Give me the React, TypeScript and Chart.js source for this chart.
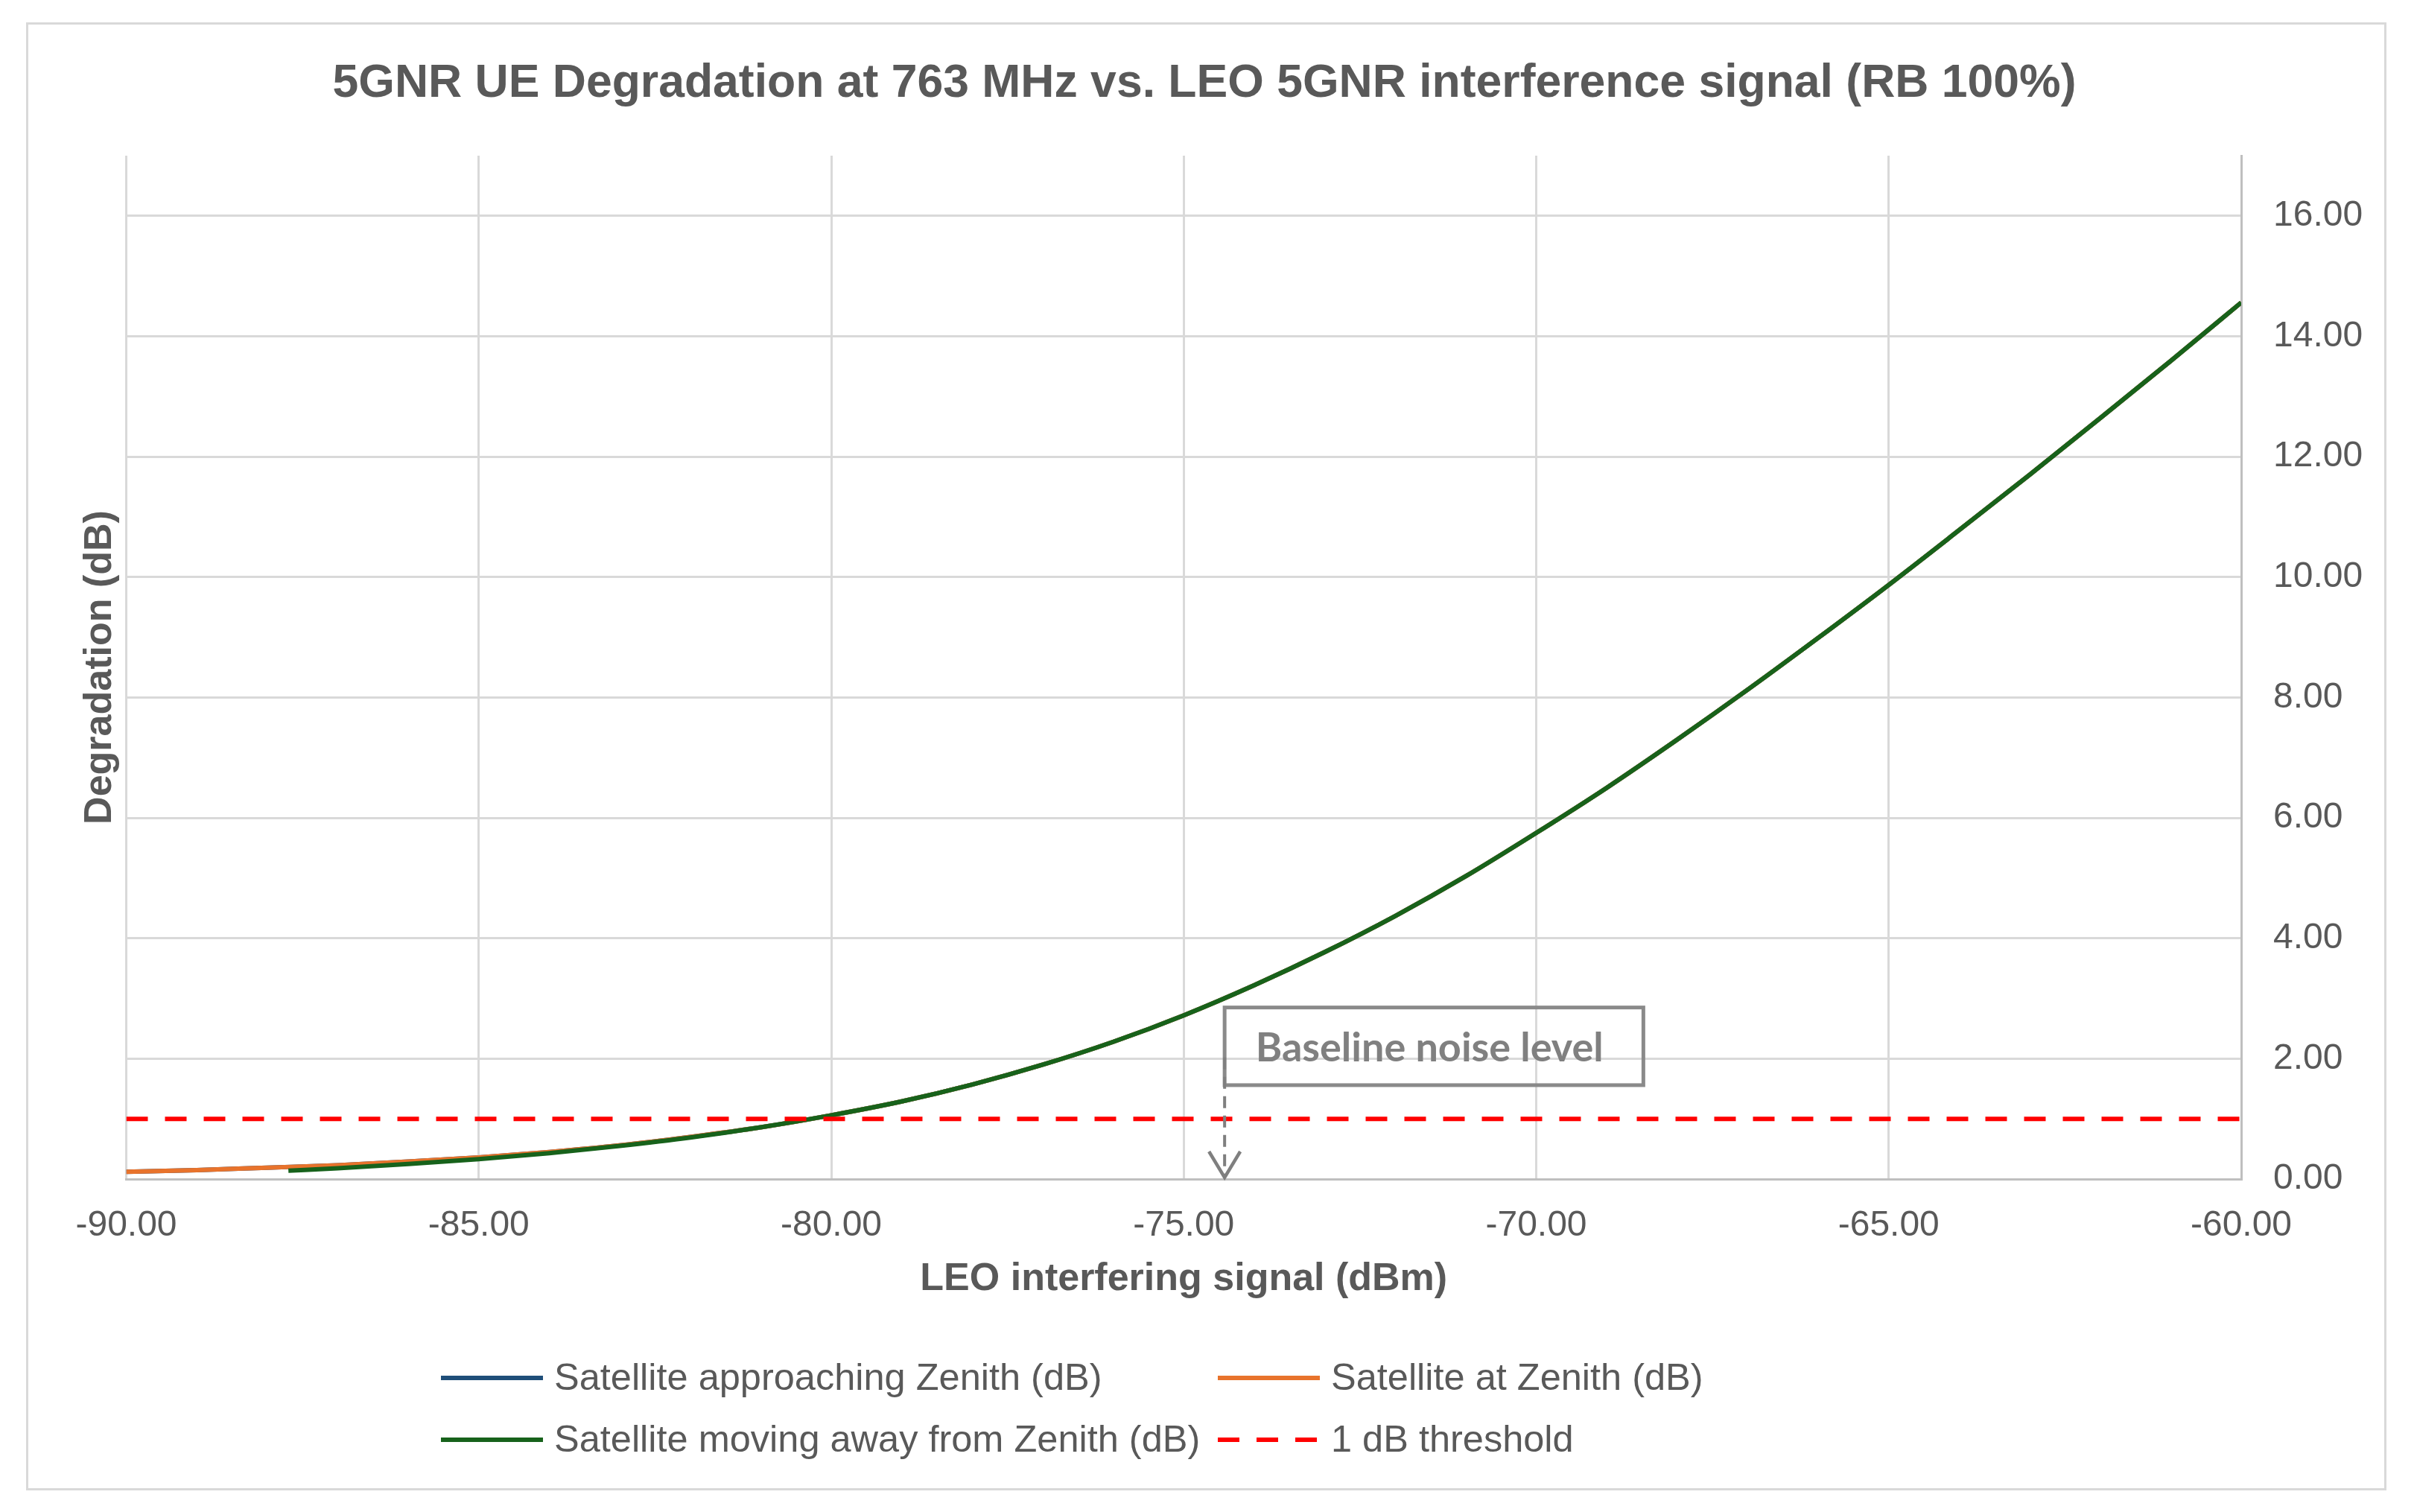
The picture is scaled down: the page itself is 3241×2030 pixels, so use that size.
import React, { useEffect, useRef } from 'react';
import { Chart, registerables } from 'chart.js';

Chart.register(...registerables);

// ---- data ----
const xValues = [-90, -89, -88, -87, -86, -85, -84, -83, -82, -81, -80, -79, -78, -77, -76, -75, -74, -73, -72, -71, -70, -69, -68, -67, -66, -65, -64, -63, -62, -61, -60];
const approachingY = [0.12, 0.15, 0.19, 0.23, 0.29, 0.36, 0.45, 0.56, 0.70, 0.86, 1.06, 1.29, 1.57, 1.90, 2.28, 2.72, 3.22, 3.77, 4.37, 5.03, 5.75, 6.50, 7.30, 8.13, 8.99, 9.87, 10.78, 11.70, 12.64, 13.59, 14.56];
const atZenithY = [0.12, 0.15, 0.19, 0.23, 0.29, 0.36, 0.45, 0.56, 0.70, 0.86, 1.06, 1.29, 1.57, 1.90, 2.28, 2.72, 3.22, 3.77, 4.37, 5.03, 5.75, 6.50, 7.30, 8.13, 8.99, 9.87, 10.78, 11.70, 12.64, 13.59, 14.56];
const movingAwayX = [-87.7, -87, -86, -85, -84, -83, -82, -81, -80, -79, -78, -77, -76, -75, -74, -73, -72, -71, -70, -69, -68, -67, -66, -65, -64, -63, -62, -61, -60];
const movingAwayY = [0.14, 0.18, 0.25, 0.33, 0.43, 0.55, 0.69, 0.86, 1.06, 1.29, 1.57, 1.90, 2.28, 2.72, 3.22, 3.77, 4.37, 5.03, 5.75, 6.50, 7.30, 8.13, 8.99, 9.87, 10.78, 11.70, 12.64, 13.59, 14.56];
const thresholdX = [-90, -60];
const thresholdY = [1, 1];
const xTickValues = [-90, -85, -80, -75, -70, -65, -60];
const yTickValues = [0, 2, 4, 6, 8, 10, 12, 14, 16];
const seriesLabels = [
  'Satellite approaching Zenith (dB)',
  'Satellite at Zenith (dB)',
  'Satellite moving away from Zenith (dB)',
  '1 dB threshold',
];
const chartTitle = '5GNR UE Degradation at 763 MHz vs. LEO 5GNR interference signal (RB 100%)';
const xAxisTitle = 'LEO interfering signal (dBm)';
const yAxisTitle = 'Degradation (dB)';
const noiseLabel = 'Baseline noise level';
const noiseLevelX = -74.42;

const FONT = "'Liberation Sans', Arial, sans-serif";
const TEXT = '#595959';
const COLORS = ['#1f4e79', '#e8732c', '#17621b', '#ff0000'];

const toPoints = (xs: number[], ys: number[]) => xs.map((x, i) => ({ x, y: ys[i] }));

const extrasPlugin = {
  id: 'extras',
  beforeDraw(chart: any) {
    const ctx = chart.ctx;
    ctx.save();
    ctx.fillStyle = '#ffffff';
    ctx.fillRect(0, 0, chart.width, chart.height);
    ctx.strokeStyle = '#d9d9d9';
    ctx.lineWidth = 3;
    ctx.strokeRect(28.5, 23.5, 3166, 1968);
    ctx.restore();
  },
  afterDatasetsDraw(chart: any) {
    const ctx = chart.ctx;
    const xs = chart.scales.x;
    const ys = chart.scales.y;
    ctx.save();
    // annotation box
    const bx0 = xs.getPixelForValue(-74.42);
    const bx1 = xs.getPixelForValue(-68.48);
    const by0 = ys.getPixelForValue(2.85);
    const by1 = ys.getPixelForValue(1.56);
    ctx.strokeStyle = '#8a8a8a';
    ctx.lineWidth = 5;
    ctx.strokeRect(bx0, by0, bx1 - bx0, by1 - by0);
    ctx.fillStyle = '#808080';
    ctx.font = "bold 54px Lato, 'Open Sans', sans-serif";
    ctx.textAlign = 'center';
    ctx.textBaseline = 'middle';
    ctx.fillText(noiseLabel, (bx0 + bx1) / 2 - 6, (by0 + by1) / 2 + 3);
    // arrow
    const ax = xs.getPixelForValue(noiseLevelX);
    const aTop = ys.getPixelForValue(2.02);
    const aBot = ys.getPixelForValue(0);
    ctx.strokeStyle = '#7f7f7f';
    ctx.lineWidth = 4;
    ctx.setLineDash([16, 10]);
    ctx.beginPath();
    ctx.moveTo(ax, aTop);
    ctx.lineTo(ax, aBot - 6);
    ctx.stroke();
    ctx.setLineDash([]);
    ctx.lineWidth = 4.5;
    ctx.beginPath();
    ctx.moveTo(ax - 21, aBot - 37);
    ctx.lineTo(ax, aBot - 2);
    ctx.lineTo(ax + 21, aBot - 37);
    ctx.stroke();
    ctx.restore();
  },
  afterDraw(chart: any) {
    const ctx = chart.ctx;
    // main title
    ctx.save();
    ctx.fillStyle = TEXT;
    ctx.font = `bold 62.5px ${FONT}`;
    ctx.textAlign = 'center';
    ctx.textBaseline = 'middle';
    ctx.fillText(chartTitle, 1609, 105);
    ctx.restore();

    // y axis title on the left
    ctx.save();
    ctx.translate(127, 888);
    ctx.rotate(-Math.PI / 2);
    ctx.fillStyle = TEXT;
    ctx.font = `bold 52px ${FONT}`;
    ctx.textAlign = 'center';
    ctx.textBaseline = 'middle';
    ctx.fillText(yAxisTitle, 0, 0);
    ctx.restore();

    // legend (2 x 2)
    const items = [
      { i: 0, lx: 584, row: 0 },
      { i: 1, lx: 1627, row: 0 },
      { i: 2, lx: 584, row: 1 },
      { i: 3, lx: 1627, row: 1 },
    ];
    const rowY = [1842, 1925];
    ctx.save();
    ctx.font = `50.5px ${FONT}`;
    ctx.textBaseline = 'middle';
    ctx.textAlign = 'left';
    items.forEach((it) => {
      const y = rowY[it.row];
      ctx.strokeStyle = COLORS[it.i];
      ctx.lineWidth = 6;
      ctx.setLineDash(it.i === 3 ? [29, 23] : []);
      ctx.beginPath();
      ctx.moveTo(it.lx, y);
      ctx.lineTo(it.lx + 137, y);
      ctx.stroke();
      ctx.setLineDash([]);
      ctx.fillStyle = TEXT;
      ctx.fillText(seriesLabels[it.i], it.lx + 152, y + 2);
    });
    ctx.restore();
  },
};

export default function App() {
  const ref = useRef<HTMLCanvasElement | null>(null);
  useEffect(() => {
    if (!ref.current) return;
    Chart.defaults.font.family = FONT;
    const lineBase = {
      pointRadius: 0,
      borderWidth: 6,
      cubicInterpolationMode: 'monotone' as const,
      fill: false,
    };
    const chart = new Chart(ref.current, {
      type: 'line',
      data: {
        datasets: [
          {
            ...lineBase,
            label: seriesLabels[0],
            data: toPoints(xValues, approachingY),
            borderColor: COLORS[0],
            order: 3,
          },
          {
            ...lineBase,
            label: seriesLabels[1],
            data: toPoints(xValues, atZenithY),
            borderColor: COLORS[1],
            order: 2,
          },
          {
            ...lineBase,
            label: seriesLabels[2],
            data: toPoints(movingAwayX, movingAwayY),
            borderColor: COLORS[2],
            order: 1,
          },
          {
            label: seriesLabels[3],
            data: toPoints(thresholdX, thresholdY),
            borderColor: COLORS[3],
            borderWidth: 6,
            borderDash: [29, 23],
            pointRadius: 0,
            fill: false,
            order: 0,
          },
        ],
      },
      options: {
        responsive: false,
        animation: false,
        events: [],
        layout: { padding: { left: 161.5, right: 24, top: 201, bottom: 259 } },
        plugins: {
          legend: { display: false },
          tooltip: { enabled: false },
          title: { display: false },
        },
        scales: {
          x: {
            type: 'linear',
            min: -90,
            max: -60,
            afterBuildTicks: (scale: any) => {
              scale.ticks = xTickValues.map((v) => ({ value: v }));
            },
            afterFit: (scale: any) => {
              scale.height = 180;
            },
            grid: { color: '#d9d9d9', lineWidth: 3, drawTicks: false },
            border: { color: '#bfbfbf', width: 3 },
            ticks: {
              color: TEXT,
              font: { size: 48, family: FONT },
              padding: 34,
              maxRotation: 0,
              callback: (v: any) => Number(v).toFixed(2),
            },
            title: {
              display: true,
              text: xAxisTitle,
              color: TEXT,
              font: { size: 52, weight: 'bold', family: FONT },
              padding: { top: 0, bottom: 14 },
            },
          },
          y: {
            type: 'linear',
            position: 'right',
            min: 0,
            max: 17,
            afterBuildTicks: (scale: any) => {
              scale.ticks = yTickValues.map((v) => ({ value: v }));
            },
            afterFit: (scale: any) => {
              scale.width = 200;
            },
            grid: { color: '#d9d9d9', lineWidth: 3, drawTicks: false },
            border: { color: '#bfbfbf', width: 3 },
            ticks: {
              color: TEXT,
              font: { size: 48, family: FONT },
              padding: 43,
              callback: (v: any) => Number(v).toFixed(2),
            },
          },
        },
      },
      plugins: [extrasPlugin],
    } as any);
    return () => chart.destroy();
  }, []);
  return <canvas ref={ref} width={3225} height={2014} style={{ display: 'block' }} />;
}
